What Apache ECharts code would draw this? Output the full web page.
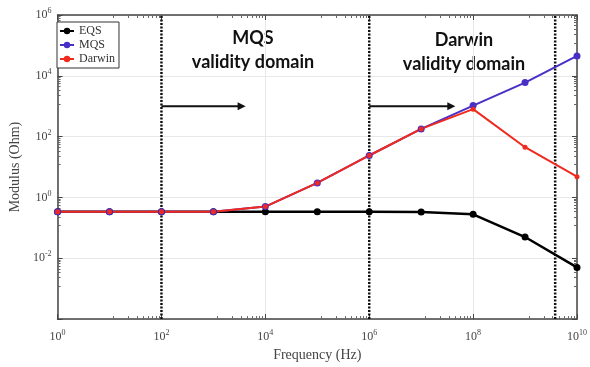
<!DOCTYPE html>
<html>
<head>
<meta charset="UTF-8">
<script src="https://cdn.jsdelivr.net/npm/echarts@6/dist/echarts.min.js"></script>
<style>
  html, body { margin: 0; padding: 0; background: #fff; }
  #main { width: 590px; height: 367px; }
</style>
</head>
<body>
<div id="main"></div>
<script>
// frequencies (Hz) and modulus (Ohm)
var freq = [1, 10, 100, 1e3, 1e4, 1e5, 1e6, 1e7, 1e8, 1e9, 1e10];
var eqs = [0.34, 0.34, 0.34, 0.34, 0.34, 0.34, 0.34, 0.33, 0.28, 0.05, 0.005];
var mqs = [0.34, 0.34, 0.34, 0.34, 0.5, 3, 24, 180, 1050, 6000, 45000];
var darwin = [0.34, 0.34, 0.34, 0.34, 0.5, 3, 24, 180, 800, 45, 4.8];
var bounds = [100, 1e6, 3.8e9];          // dotted vertical limits
var arrows = [[100, 3500], [1e6, 3.8e7]]; // arrow start / end at 1000 Ohm

function pairs(ys) {
  return freq.map(function (f, i) { return [f, ys[i]]; });
}

function powLabel(v) {
  var e = Math.round(Math.log10(v));
  return '10{s|' + e + '}';
}

var serif = 'Liberation Serif';
var labelRich = {
  s: { fontSize: 8, fontFamily: serif, color: '#444', padding: [0, 0, 8, 0] }
};

var series = [
  { name: 'EQS', type: 'line', data: pairs(eqs), color: '#000',
    symbol: 'circle', symbolSize: 7, lineStyle: { width: 2.5 } },
  { name: 'MQS', type: 'line', data: pairs(mqs), color: '#4a2fc6',
    symbol: 'circle', symbolSize: 7, lineStyle: { width: 2 } },
  { name: 'Darwin', type: 'line', data: pairs(darwin), color: '#f02a1e',
    symbol: 'circle', symbolSize: 5, lineStyle: { width: 2 } }
];

bounds.forEach(function (b) {
  series.push({
    type: 'line', data: [[b, 1e-4], [b, 1e6]], symbol: 'none', silent: true,
    lineStyle: { color: '#111', width: 2.5, type: [2, 1.5] }, z: 1
  });
});

arrows.forEach(function (a) {
  series.push({
    type: 'line', silent: true, z: 1,
    data: [
      { value: [a[0], 1000], symbol: 'none' },
      { value: [a[1], 1000], symbol: 'triangle', symbolSize: [8, 8], symbolRotate: -90 }
    ],
    lineStyle: { color: '#111', width: 2 }, itemStyle: { color: '#111' }
  });
});

var chart = echarts.init(document.getElementById('main'));
chart.setOption({
  backgroundColor: '#fff',
  animation: false,
  grid: { left: 54, right: 12, top: 15, bottom: 44 },
  legend: {
    data: ['EQS', 'MQS', 'Darwin'],
    orient: 'vertical', left: 57, top: 22,
    backgroundColor: '#fff', borderColor: '#333', borderWidth: 1,
    padding: [3, 4, 3, 2], itemGap: 2, itemWidth: 14, itemHeight: 8,
    textStyle: { fontFamily: serif, fontSize: 12, color: '#333' }
  },
  graphic: [
    { type: 'text', x: 253, y: 26, style: {
      text: 'MQS\nvalidity domain', textAlign: 'center',
      font: 'bold 18px Lato', lineHeight: 24, fill: '#111' } },
    { type: 'text', x: 464, y: 28, style: {
      text: 'Darwin\nvalidity domain', textAlign: 'center',
      font: 'bold 18px Lato', lineHeight: 24, fill: '#111' } }
  ],
  xAxis: [{
    type: 'log', logBase: 10, min: 1, max: 1e10, interval: 2,
    name: 'Frequency (Hz)', nameLocation: 'middle', nameGap: 26,
    nameTextStyle: { fontFamily: serif, fontSize: 14, color: '#444' },
    axisLine: { lineStyle: { color: '#444', width: 1.5 } },
    axisTick: { inside: true, length: 5, lineStyle: { color: '#444' } },
    minorTick: { show: true, splitNumber: 9, length: 3, lineStyle: { color: '#666' } },
    axisLabel: { formatter: powLabel, rich: labelRich, fontFamily: serif,
      fontSize: 12, color: '#444', margin: 10 },
    splitLine: { show: true, lineStyle: { color: '#e8e8e8' } }
  }, {
    type: 'log', logBase: 10, min: 1, max: 1e10, interval: 2, position: 'top',
    axisLine: { lineStyle: { color: '#444', width: 1.5 } },
    axisTick: { inside: true, length: 5, lineStyle: { color: '#444' } },
    minorTick: { show: true, splitNumber: 9, length: 3, lineStyle: { color: '#666' } },
    axisLabel: { show: false }, splitLine: { show: false }
  }],
  yAxis: [{
    type: 'log', logBase: 10, min: 1e-4, max: 1e6, interval: 2,
    name: 'Modulus (Ohm)', nameLocation: 'middle', nameGap: 32,
    nameTextStyle: { fontFamily: serif, fontSize: 14, color: '#444' },
    axisLine: { show: true, lineStyle: { color: '#444', width: 1.5 } },
    axisTick: { show: true, inside: true, length: 5, lineStyle: { color: '#444' } },
    minorTick: { show: true, splitNumber: 9, length: 3, lineStyle: { color: '#666' } },
    axisLabel: { formatter: function (v) { return v <= 1e-4 ? '' : powLabel(v); },
      rich: labelRich, fontFamily: serif, fontSize: 12, color: '#444', margin: 6 },
    splitLine: { show: true, lineStyle: { color: '#e8e8e8' } }
  }, {
    type: 'log', logBase: 10, min: 1e-4, max: 1e6, interval: 2, position: 'right',
    axisLine: { show: true, lineStyle: { color: '#444', width: 1.5 } },
    axisTick: { show: true, inside: true, length: 5, lineStyle: { color: '#444' } },
    minorTick: { show: true, splitNumber: 9, length: 3, lineStyle: { color: '#666' } },
    axisLabel: { show: false }, splitLine: { show: false }
  }],
  series: series
});
</script>
</body>
</html>
